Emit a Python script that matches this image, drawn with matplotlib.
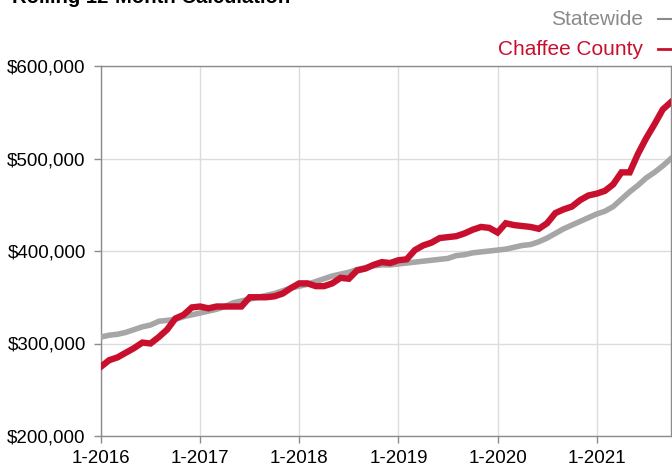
import numpy as np
import matplotlib.pyplot as plt
from matplotlib.lines import Line2D
from matplotlib.ticker import FuncFormatter

plt.rcParams['font.family'] = ['Liberation Sans', 'DejaVu Sans']

# Rolling 12-month median sales price, monthly from 1-2016 (thousands of $)
statewide = [307, 309, 310, 312, 315, 318, 320, 324, 325, 326, 329, 331,
             333, 335, 337, 340, 344, 346, 348, 350, 352, 354, 357, 360,
             362, 364, 367, 370, 373, 375, 377, 380, 382, 384, 385, 385,
             386, 387, 388, 389, 390, 391, 392, 395, 396, 398, 399, 400,
             401, 402, 404, 406, 407, 410, 414, 419, 424, 428, 432, 436,
             440, 443, 448, 456, 464, 471, 479, 485, 492, 500]
chaffee = [275, 282, 285, 290, 295, 301, 300, 307, 315, 327, 331, 339,
           340, 338, 340, 340, 340, 340, 350, 350, 350, 351, 354, 360,
           365, 365, 362, 362, 365, 371, 370, 379, 381, 385, 388, 387,
           390, 391, 401, 406, 409, 414, 415, 416, 419, 423, 426, 425,
           420, 430, 428, 427, 426, 424, 430, 441, 445, 448, 455, 460,
           462, 465, 472, 485, 485, 505, 522, 537, 553, 561]
tick_labels = ['1-2016', '1-2017', '1-2018', '1-2019', '1-2020', '1-2021']

months = np.arange(len(chaffee))
state_vals = np.array(statewide) * 1000
chaffee_vals = np.array(chaffee) * 1000

gray_line = '#a6a6a6'
red = '#c8102e'
frame = '#8c8c8c'

fig = plt.figure(figsize=(6.72, 4.66), dpi=100)
ax = fig.add_axes([101 / 672, 30 / 466, 570 / 672, 370 / 466])

ax.plot(months, state_vals, color=gray_line, lw=4.0, solid_joinstyle='miter', zorder=3)
ax.plot(months, chaffee_vals, color=red, lw=4.6, solid_joinstyle='miter', zorder=4)

ax.set_xlim(0, len(chaffee) - 1)
ax.set_ylim(200000, 600000)
ax.set_xticks(np.arange(0, 72, 12))
ax.set_xticklabels(tick_labels)
ax.set_yticks(np.arange(200000, 600001, 100000))
ax.yaxis.set_major_formatter(FuncFormatter(lambda v, p: f'${v:,.0f}'))

ax.grid(True, color='#dcdcdc', lw=1)
ax.set_axisbelow(True)
for s in ax.spines.values():
    s.set_color(frame)
    s.set_linewidth(1)
ax.tick_params(axis='both', colors=frame, length=5, width=1, labelsize=13.5, labelcolor='black')
ax.tick_params(axis='y', pad=6)
ax.tick_params(axis='x', pad=5)

# title (cut off at the top of the image, as in the source)
fig.text(12 / 672, 1 - 3 / 466, 'Rolling 12-Month Calculation', fontsize=14.6,
         fontweight='bold', ha='left', va='baseline', color='black')

# legend, text first then the line sample
fig.text(643 / 672, 1 - 25 / 466, 'Statewide', fontsize=15, color='#8a8a8a',
         ha='right', va='baseline')
fig.text(643 / 672, 1 - 55 / 466, 'Chaffee County', fontsize=15, color=red,
         ha='right', va='baseline')
fig.lines.append(Line2D([658 / 672, 1.0], [1 - 19 / 466] * 2, color='#8a8a8a', lw=1.5,
                        transform=fig.transFigure))
fig.lines.append(Line2D([658 / 672, 1.0], [1 - 49 / 466] * 2, color=red, lw=2,
                        transform=fig.transFigure))

fig.savefig('out.png', dpi=100)
